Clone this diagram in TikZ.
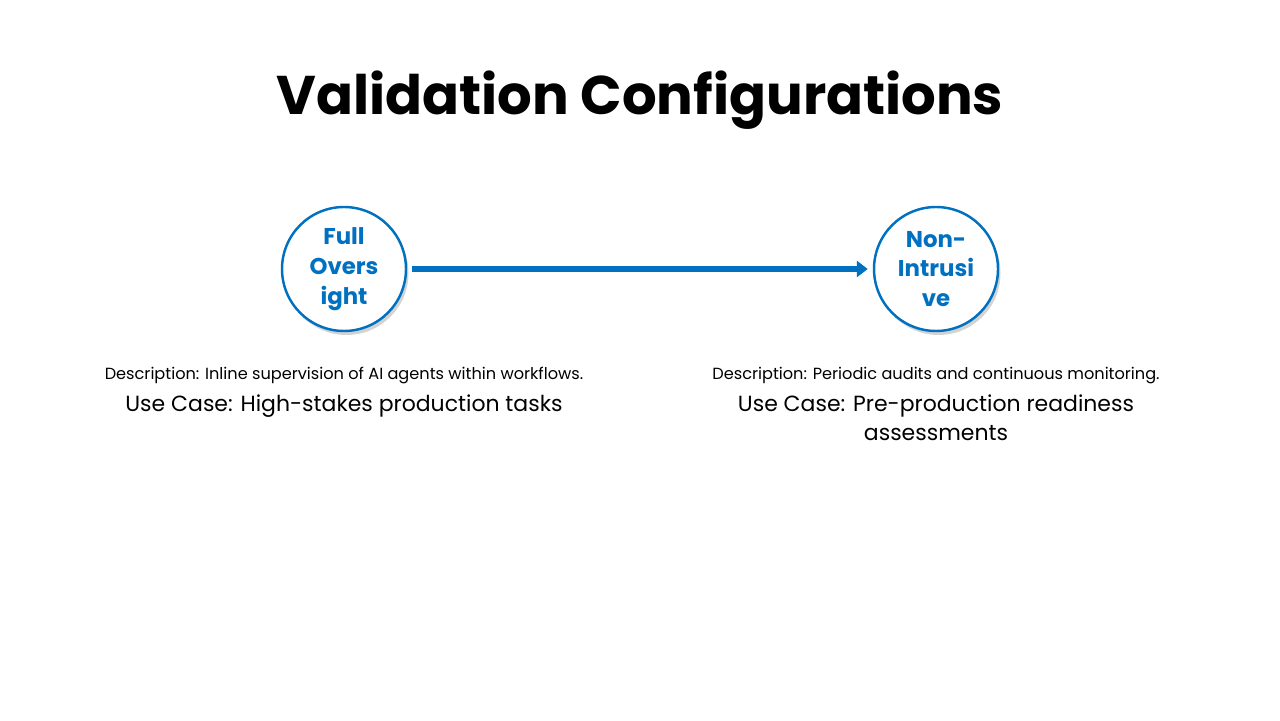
\documentclass[tikz,border=0pt]{standalone}
\usepackage{fontspec}
\setmainfont{Poppins}
\usetikzlibrary{arrows.meta,shadows}
\definecolor{cfgblue}{HTML}{0070C0}

\begin{document}
\begin{tikzpicture}[config node/.style={circle,draw=cfgblue,line width=1.4pt,fill=white,minimum size=2.48cm,inner sep=0pt,align=center,text=cfgblue,font=\fontsize{13}{17}\selectfont\bfseries,drop shadow={shadow xshift=0.5mm,shadow yshift=-0.8mm,opacity=0.35}},desc/.style={font=\fontsize{9.2}{12}\selectfont,align=center},usecase/.style={font=\fontsize{12.5}{16.5}\selectfont,align=center}]
  \useasboundingbox (0,0) rectangle (25.6,14.4);
  \node[font=\fontsize{31}{38}\selectfont\bfseries] (title) at (12.8,12.4) {Validation Configurations};

  \node[config node] (full) at (6.88,9.02) {Full\\Overs\\ight};
  \node[config node] (non) at (18.72,9.02) {Non-\\Intrusi\\ve};

  \node[desc] (fulldesc) at (6.88,6.88) {Description: Inline supervision of AI agents within workflows.};
  \node[usecase,anchor=north] (fulluse) at (6.88,6.62) {Use Case: High-stakes production tasks};
  \node[desc] (nondesc) at (18.72,6.88) {Description: Periodic audits and continuous monitoring.};
  \node[usecase,anchor=north] (nonuse) at (18.72,6.62) {Use Case: Pre-production readiness\\assessments};

\draw[cfgblue,line width=3.5pt,-{Triangle[length=2.2mm,width=3.2mm]},shorten <=1mm,shorten >=1mm,drop shadow={shadow xshift=0.3mm,shadow yshift=-0.6mm,opacity=0.3}]
  (full) -- (non);
\end{tikzpicture}
\end{document}
